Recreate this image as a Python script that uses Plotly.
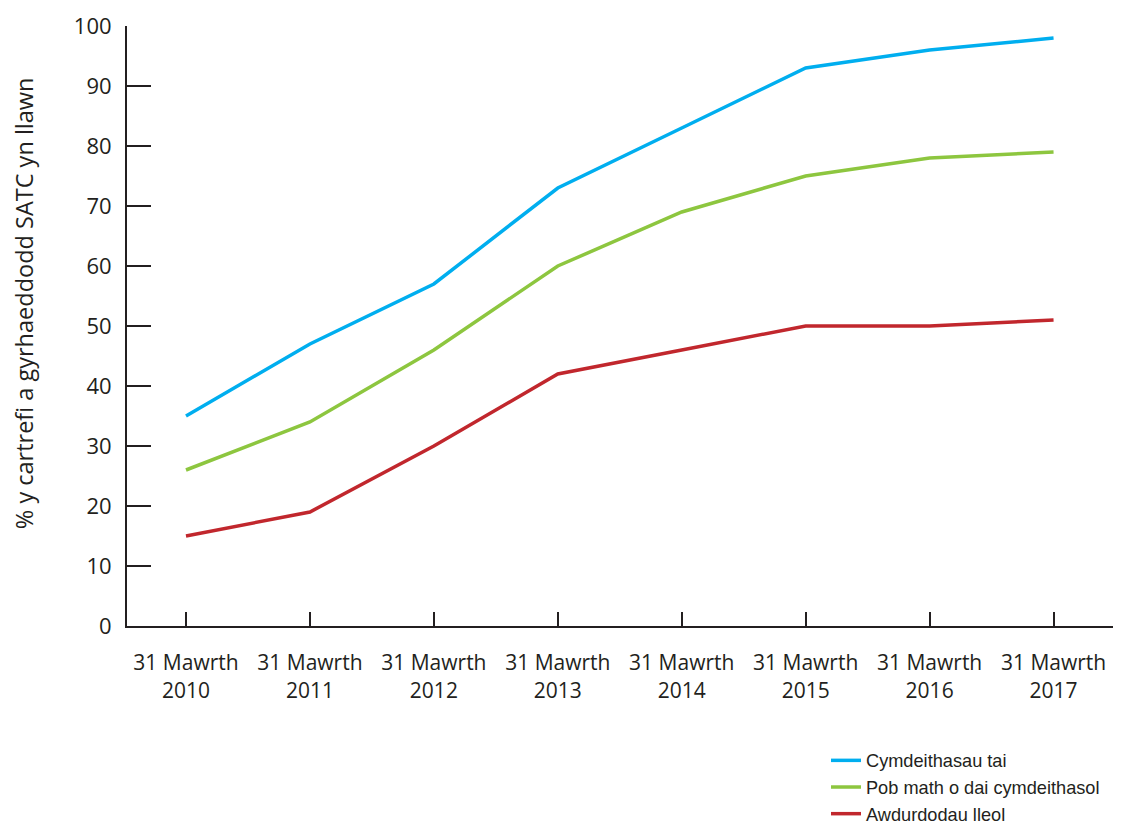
import plotly.graph_objects as go

categories = ["31 Mawrth<br>2010", "31 Mawrth<br>2011", "31 Mawrth<br>2012", "31 Mawrth<br>2013",
              "31 Mawrth<br>2014", "31 Mawrth<br>2015", "31 Mawrth<br>2016", "31 Mawrth<br>2017"]
cymdeithasau_tai = [35, 47, 57, 73, 83, 93, 96, 98]
pob_math = [26, 34, 46, 60, 69, 75, 78, 79]
awdurdodau = [15, 19, 30, 42, 46, 50, 50, 51]
y_ticks = [0, 10, 20, 30, 40, 50, 60, 70, 80, 90, 100]

series = [
    ("Cymdeithasau tai", cymdeithasau_tai, "#00AEEF"),
    ("Pob math o dai cymdeithasol", pob_math, "#8DC63F"),
    ("Awdurdodau lleol", awdurdodau, "#C1272D"),
]

x_idx = list(range(len(categories)))
fig = go.Figure()
for name, vals, col in series:
    fig.add_trace(go.Scatter(x=x_idx, y=vals, name=name, mode="lines",
                             line=dict(color=col, width=3.5)))

font_family = "Open Sans, Noto Sans, sans-serif"
fig.update_layout(
    width=1121, height=831,
    margin=dict(l=119, r=11, t=18, b=213, autoexpand=False),
    paper_bgcolor="white", plot_bgcolor="white",
    font=dict(family=font_family, color="#231F20"),
    showlegend=True,
    legend=dict(xref="container", yref="container", x=0.7297, y=0.1167,
                xanchor="left", yanchor="top",
                font=dict(family="Liberation Sans, Arial, sans-serif", size=18.2, color="#231F20"),
                bgcolor="rgba(0,0,0,0)", tracegroupgap=0),
    xaxis=dict(range=[-0.476, 7.52], tickmode="array", tickvals=x_idx, ticktext=categories,
               ticks="inside", ticklen=14, tickwidth=1.5, tickcolor="#231F20",
               showline=True, linecolor="#231F20", linewidth=2, automargin=False,
               showgrid=False, zeroline=False, fixedrange=True,
               tickfont=dict(size=21, family=font_family, color="#231F20"),
               ticklabelstandoff=17),
    yaxis=dict(range=[0, 100], tickmode="array", tickvals=y_ticks,
               ticks="inside", ticklen=24, tickwidth=1.5, tickcolor="#231F20",
               showline=True, linecolor="#231F20", linewidth=2, automargin=False,
               showgrid=False, zeroline=False, fixedrange=True,
               tickfont=dict(size=22, family=font_family, color="#231F20"),
               ticklabelstandoff=9),
    annotations=[dict(text="% y cartrefi a gyrhaeddodd SATC yn llawn", textangle=-90,
                      xref="paper", yref="paper", x=-0.104, y=0.538,
                      xanchor="center", yanchor="middle", showarrow=False,
                      font=dict(size=23.5, family=font_family, color="#231F20"))],
)

fig.write_html("out.html")
